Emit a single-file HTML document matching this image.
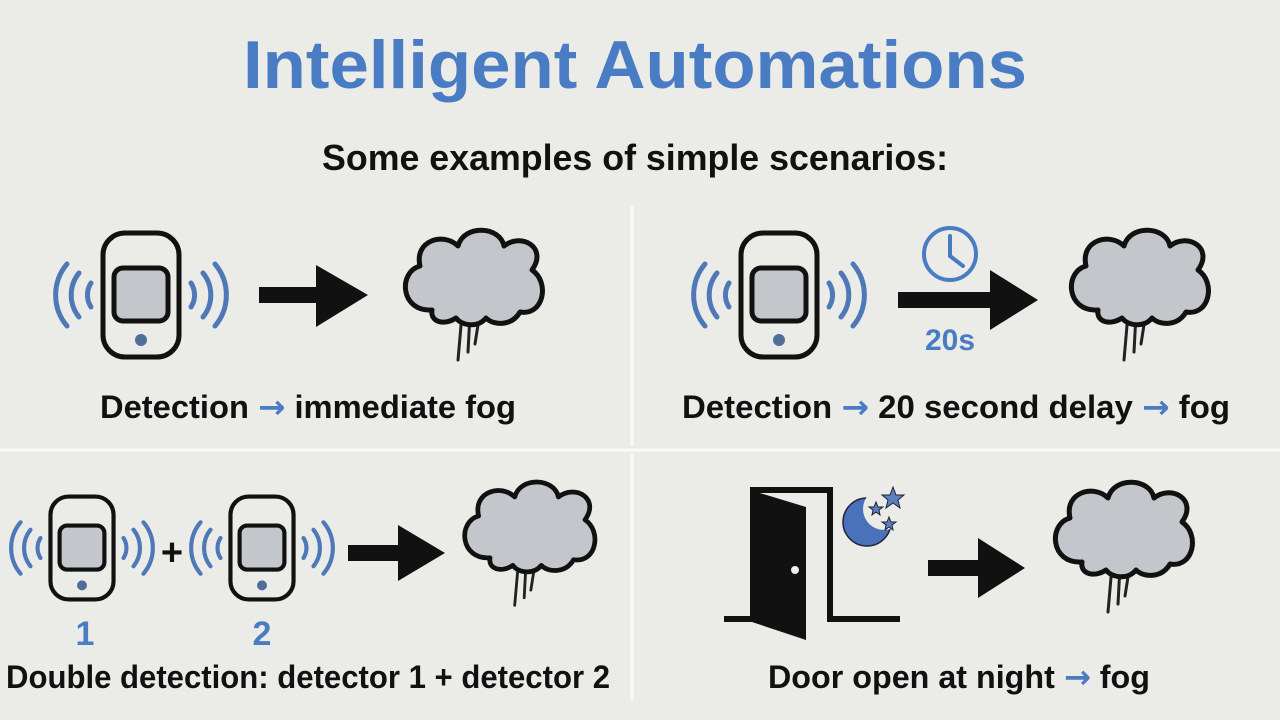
<!DOCTYPE html>
<html><head><meta charset="utf-8"><style>
html,body{margin:0;padding:0;background:#ebebe8;}
svg{display:block;}
text{font-family:"Liberation Sans",sans-serif;font-weight:bold;}
.ar{font-family:"DejaVu Sans",sans-serif;fill:#4a7cc4;}
</style></head><body>
<svg width="1280" height="720" viewBox="0 0 1280 720" xmlns="http://www.w3.org/2000/svg">
<defs>
<g id="det">
  <rect x="-38" y="-62" width="76" height="124" rx="22" fill="none" stroke="#111" stroke-width="5"/>
  <rect x="-27" y="-27" width="54" height="53" rx="9" fill="#c3c7cc" stroke="#111" stroke-width="5"/>
  <circle cx="0" cy="45" r="6" fill="#4f6f99"/>
  <g fill="none" stroke="#4f78b8" stroke-width="5" stroke-linecap="round">
    <path d="M-50,-12 A22,22 0 0 0 -50,12"/>
    <path d="M-62,-22 A35,35 0 0 0 -62,22"/>
    <path d="M-74,-31 A48,48 0 0 0 -74,31"/>
    <path d="M50,-12 A22,22 0 0 1 50,12"/>
    <path d="M62,-22 A35,35 0 0 1 62,22"/>
    <path d="M74,-31 A48,48 0 0 1 74,31"/>
  </g>
</g>
<g id="cloud">
  <g stroke="#222" stroke-width="3" stroke-linecap="round">
    <path d="M-10,28 L-14,74"/><path d="M-2,28 L-4,66"/><path d="M8,26 L3,58"/>
  </g>
  <path d="M-40,24 C-72,26 -74,-14 -52,-20 C-58,-46 -28,-54 -14,-40 C-8,-62 28,-60 32,-40 C50,-54 76,-38 60,-16 C78,-4 72,30 48,26 C40,40 22,40 14,32 C6,42 -10,40 -16,32 C-28,40 -42,36 -40,24 Z" fill="#c3c7cc" stroke="#111" stroke-width="5" stroke-linejoin="round"/>
</g>
</defs>

<text x="635" y="88" text-anchor="middle" font-size="68" fill="#4a7cc4" textLength="784" lengthAdjust="spacingAndGlyphs">Intelligent Automations</text>
<text x="635" y="170" text-anchor="middle" font-size="36" fill="#111" textLength="626" lengthAdjust="spacingAndGlyphs">Some examples of simple scenarios:</text>

<line x1="632" y1="205" x2="632" y2="446" stroke="#fafafa" stroke-width="3"/>
<line x1="0" y1="450" x2="1280" y2="450" stroke="#fafafa" stroke-width="3"/>
<line x1="632" y1="453" x2="632" y2="700" stroke="#fafafa" stroke-width="3"/>

<!-- Scenario 1 -->
<use href="#det" transform="translate(141,295)"/>
<polygon points="259,287 316,287 316,265 368,295 316,327 316,303 259,303" fill="#111"/>
<use href="#cloud" transform="translate(472,286)"/>
<text x="308" y="418" text-anchor="middle" font-size="32" fill="#111" textLength="416" lengthAdjust="spacingAndGlyphs">Detection <tspan class="ar">→</tspan> immediate fog</text>

<!-- Scenario 2 -->
<use href="#det" transform="translate(779,295)"/>
<circle cx="950" cy="254" r="26" fill="none" stroke="#4a7cc4" stroke-width="4"/>
<path d="M950,236 L950,256 L963,266" fill="none" stroke="#4a7cc4" stroke-width="4" stroke-linecap="round"/>
<polygon points="898,292 990,292 990,270 1038,300 990,330 990,308 898,308" fill="#111"/>
<text x="950" y="350" text-anchor="middle" font-size="30" fill="#4a7cc4">20s</text>
<use href="#cloud" transform="translate(1138,286)"/>
<text x="956" y="418" text-anchor="middle" font-size="32" fill="#111" textLength="548" lengthAdjust="spacingAndGlyphs">Detection <tspan class="ar">→</tspan> 20 second delay <tspan class="ar">→</tspan> fog</text>

<!-- Scenario 3 -->
<use href="#det" transform="translate(82,548) scale(0.83)"/>
<text x="172" y="565" text-anchor="middle" font-size="38" fill="#111">+</text>
<use href="#det" transform="translate(262,548) scale(0.83)"/>
<text x="85" y="645" text-anchor="middle" font-size="34" fill="#4a7cc4">1</text>
<text x="262" y="645" text-anchor="middle" font-size="34" fill="#4a7cc4">2</text>
<polygon points="348,545 398,545 398,525 445,553 398,581 398,561 348,561" fill="#111"/>
<use href="#cloud" transform="translate(528,535) scale(0.95)"/>
<text x="308" y="688" text-anchor="middle" font-size="32" fill="#111" textLength="604" lengthAdjust="spacingAndGlyphs">Double detection: detector 1 + detector 2</text>

<!-- Scenario 4 -->
<path d="M724,619 L753,619 L753,490 L830,490 L830,619 L900,619" fill="none" stroke="#111" stroke-width="6"/>
<polygon points="750,490 806,507 806,640 752,622" fill="#111"/>
<circle cx="795" cy="570" r="4" fill="#eee"/>
<circle cx="867" cy="522" r="24" fill="#4a72bb" stroke="#223" stroke-width="1.5"/>
<circle cx="884" cy="509" r="21" fill="#ebebe8"/>
<g fill="#5b80c0" stroke="#223" stroke-width="1">
<polygon points="893,487 896,495 904,495 898,500 900,508 893,503 886,508 888,500 882,495 890,495"/>
<polygon points="876,502 878,507 883,507 879,510 880,515 876,512 872,515 873,510 869,507 874,507"/>
<polygon points="889,517 891,522 896,522 892,525 893,530 889,527 885,530 886,525 882,522 887,522"/>
</g>
<polygon points="928,560 978,560 978,538 1025,568 978,598 978,576 928,576" fill="#111"/>
<use href="#cloud" transform="translate(1122,538)"/>
<text x="959" y="688" text-anchor="middle" font-size="32" fill="#111" textLength="382" lengthAdjust="spacingAndGlyphs">Door open at night <tspan class="ar">→</tspan> fog</text>
</svg>
</body></html>
